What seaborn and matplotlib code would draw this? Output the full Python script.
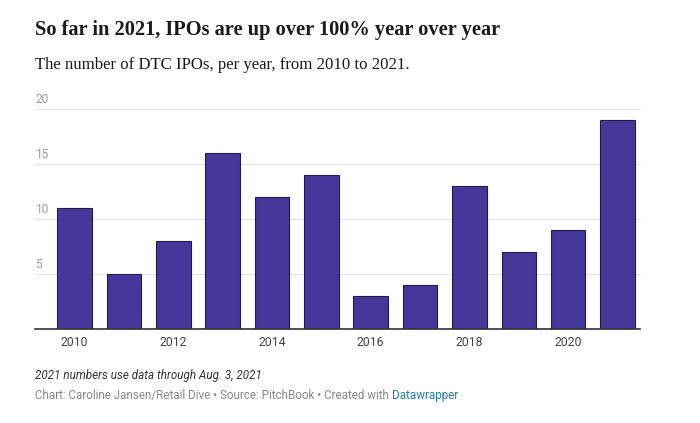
import pandas as pd
import seaborn as sns
import matplotlib.pyplot as plt
from matplotlib.transforms import offset_copy

years = [2010, 2011, 2012, 2013, 2014, 2015, 2016, 2017, 2018, 2019, 2020, 2021]
ipos = [11, 5, 8, 16, 12, 14, 3, 4, 13, 7, 9, 19]
y_ticks = [5, 10, 15, 20]

title = "So far in 2021, IPOs are up over 100% year over year"
subtitle = "The number of DTC IPOs, per year, from 2010 to 2021."
note = "2021 numbers use data through Aug. 3, 2021"
credit = "Chart: Caroline Jansen/Retail Dive \u2022 Source: PitchBook \u2022 Created with "
credit_link = "Datawrapper"

df = pd.DataFrame({'year': [str(y) for y in years], 'ipos': ipos})

sns.set_style('white')
plt.rcParams['font.family'] = ['Roboto', 'DejaVu Sans']

fig = plt.figure(figsize=(7, 4.23), dpi=100)
ax = fig.add_axes([0.05, 0.222, 0.864, 0.520])

sns.barplot(data=df, x='year', y='ipos', color='#45369a', saturation=1,
            width=0.7, edgecolor='#221c4a', linewidth=0.8, ax=ax, zorder=3)

ax.set_xlim(-0.8, 11.45)
ax.set_ylim(0, 20)
ax.set_xlabel('')
ax.set_ylabel('')
for s in ['top', 'right', 'left']:
    ax.spines[s].set_visible(False)
ax.spines['bottom'].set_color('#333333')
ax.spines['bottom'].set_linewidth(1.2)
ax.spines['bottom'].set_zorder(4)

ax.set_yticks(y_ticks)
ax.set_yticklabels([])
ax.tick_params(axis='y', length=0)
for v in y_ticks:
    ax.axhline(v, color='#e3e3e3', linewidth=0.8, zorder=1, clip_on=False)
    ax.text(0, v, str(v), transform=offset_copy(ax.get_yaxis_transform(), fig=fig, y=2.5, units='points'),
            ha='left', va='bottom', fontsize=8.6, color='#9a9a9a')

ax.set_xticks(range(0, len(years), 2))
ax.set_xticklabels([str(y) for y in years[::2]])
ax.tick_params(axis='x', length=0, pad=5, labelsize=8.8, labelcolor='#444444')

fig.text(0.05, 0.928, title, fontsize=14.7, fontweight='bold',
         family=['Liberation Serif', 'DejaVu Serif'], color='#1a1a1a', va='center')
fig.text(0.05, 0.846, subtitle, fontsize=12.1,
         family=['Liberation Serif', 'DejaVu Serif'], color='#1a1a1a', va='center')
fig.text(0.05, 0.103, note, fontsize=8.4, style='italic', color='#333333', va='baseline')
t = fig.text(0.05, 0.056, credit, fontsize=8.4, color='#888888', va='baseline')
fig.canvas.draw()
bb = t.get_window_extent()
fig.text(bb.x1 / fig.bbox.width, 0.056, credit_link, fontsize=8.4, color='#1d7fa8', va='baseline')

plt.savefig('out.png', dpi=100)
